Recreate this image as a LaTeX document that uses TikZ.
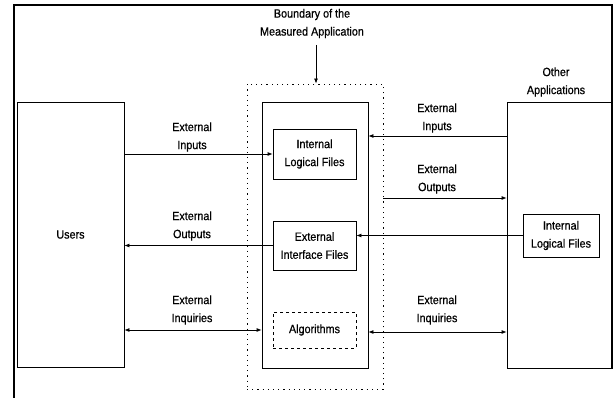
\documentclass[tikz,border=0pt]{standalone}
\usepackage{fontspec}
\setmainfont{Liberation Sans}[FakeStretch=0.9,FakeBold=0.6]
\usetikzlibrary{arrows.meta}
\begin{document}
\begin{tikzpicture}[x=1pt,y=-1pt,
  every node/.style={font=\fontsize{12}{18}\selectfont, inner sep=0pt, align=center},
  box/.style={draw, line width=0.8pt, rectangle},
  dotbox/.style={draw, line width=0.9pt, dash pattern=on 1.2pt off 4pt},
  dashbox/.style={draw, line width=0.8pt, dash pattern=on 3pt off 3pt},
  tip/.tip={Latex[length=5pt,width=4pt]},
  arr/.style={line width=0.8pt, -tip},
  darr/.style={line width=0.8pt, tip-tip},
  framel/.style={line width=1.6pt}
]
\useasboundingbox (0,0) rectangle (615,398);
% frame
\draw[framel] (14,398) -- (14,5) -- (612,5) -- (612,369);

% boxes
\node[box, minimum width=107pt, minimum height=265pt] (users) at (70.5,234.5) {Users};
\node[dotbox, minimum width=136pt, minimum height=305pt] (bound) at (315,236.5) {};
\node[box, minimum width=106pt, minimum height=266pt] (inner) at (315,235) {};
\node[box, minimum width=83pt, minimum height=50pt] (ilf) at (314.5,154) {Internal\\Logical Files};
\node[box, minimum width=83pt, minimum height=49pt] (eif) at (314.5,245.5) {External\\Interface Files};
\node[dashbox, minimum width=83pt, minimum height=36pt] (alg) at (314.5,330) {Algorithms};
\node[box, minimum width=104pt, minimum height=266pt] (oth) at (559,235) {};
\node[box, minimum width=76pt, minimum height=43pt] (rilf) at (561,235.5) {Internal\\Logical Files};

% labels
\node (bndlabel) at (312,23.5) {Boundary of the\\Measured Application};
\node (othlabel) at (556,82) {Other\\Applications};
\node (lin) at (192,137) {External\\Inputs};
\node (lout) at (192,226) {External\\Outputs};
\node (linq) at (192,310) {External\\Inquiries};
\node (rin) at (437,118) {External\\Inputs};
\node (rout) at (437,179) {External\\Outputs};
\node (rinq) at (437,310) {External\\Inquiries};

% connectors
\coordinate (bstart) at (316,45);
\draw[arr] (bstart) -- (bstart |- bound.north);
\draw[arr] (users.east |- ilf.west) -- (ilf.west);
\coordinate (riny) at (0,136);
\draw[arr] (oth.west |- riny) -- (inner.east |- riny);
\coordinate (routy) at (0,198);
\draw[arr] (bound.east |- routy) -- (oth.west |- routy);
\draw[arr] (eif.west) -- (users.east |- eif.west);
\draw[arr] (rilf.west) -- (eif.east |- rilf.west);
\draw[darr] (users.east |- alg.west) -- (inner.west |- alg.west);
\coordinate (rinqy) at (0,332);
\draw[darr] (inner.east |- rinqy) -- (oth.west |- rinqy);
\end{tikzpicture}
\end{document}
